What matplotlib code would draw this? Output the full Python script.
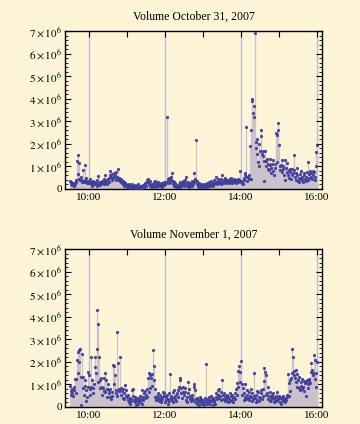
import numpy as np
import matplotlib
matplotlib.use("Agg")
import matplotlib.pyplot as plt
from matplotlib.ticker import FixedLocator, MultipleLocator

# one value per minute, 9:30 .. 16:00, in millions of shares
vol_oct31 = [
    0.35, 0.30, 0.22, 0.18, 0.25, 0.20, 0.15, 0.28, 0.22, 0.30,  # 9:30
    0.40, 1.22, 1.52, 0.65, 0.45, 1.15, 0.42, 0.38, 0.55, 0.30,  # 9:40
    0.84, 0.35, 0.30, 1.05, 0.42, 0.48, 0.30, 0.25, 0.35, 0.28,  # 9:50
    0.30, 0.25, 0.45, 0.20, 0.30, 0.15, 0.25, 0.35, 0.20, 0.28,  # 10:00
    0.30, 0.22, 0.15, 0.40, 0.57, 0.25, 0.20, 0.30, 0.18, 0.25,  # 10:10
    0.35, 0.25, 0.30, 0.20, 0.45, 0.60, 0.35, 0.28, 0.40, 0.22,  # 10:20
    0.45, 0.30, 0.50, 0.62, 0.80, 0.55, 0.40, 0.65, 0.48, 0.70,  # 10:30
    0.52, 0.60, 0.38, 0.75, 0.45, 0.55, 0.88, 0.40, 0.50, 0.35,  # 10:40
    0.30, 0.45, 0.25, 0.35, 0.20, 0.30, 0.15, 0.25, 0.18, 0.12,  # 10:50
    0.10, 0.15, 0.08, 0.20, 0.12, 0.05, 0.15, 0.10, 0.22, 0.08,  # 11:00
    0.12, 0.05, 0.18, 0.10, 0.06, 0.15, 0.08, 0.20, 0.10, 0.05,  # 11:10
    0.12, 0.08, 0.15, 0.10, 0.05, 0.18, 0.12, 0.08, 0.20, 0.25,  # 11:20
    0.15, 0.30, 0.40, 0.45, 0.25, 0.20, 0.12, 0.35, 0.18, 0.10,  # 11:30
    0.22, 0.15, 0.30, 0.12, 0.35, 0.20, 0.10, 0.25, 0.18, 0.30,  # 11:40
    0.15, 0.22, 0.12, 0.28, 0.18, 0.20, 0.10, 0.25, 0.30, 0.18,  # 11:50
    0.20, 0.30, 0.25, 3.17, 0.45, 0.38, 0.25, 0.50, 0.30, 0.40,  # 12:00
    0.55, 0.70, 0.35, 0.20, 0.30, 0.15, 0.25, 0.10, 0.18, 0.12,  # 12:10
    0.08, 0.15, 0.22, 0.10, 0.30, 0.18, 0.12, 0.25, 0.35, 0.20,  # 12:20
    0.15, 0.40, 0.28, 0.55, 0.20, 0.12, 0.30, 0.18, 0.10, 0.25,  # 12:30
    0.15, 0.22, 0.35, 0.12, 0.20, 0.70, 0.30, 0.45, 0.40, 2.15,  # 12:40
    0.35, 0.20, 0.12, 0.25, 0.10, 0.18, 0.08, 0.15, 0.12, 0.20,  # 12:50
    0.10, 0.15, 0.08, 0.20, 0.12, 0.18, 0.25, 0.10, 0.15, 0.22,  # 13:00
    0.30, 0.12, 0.20, 0.35, 0.18, 0.25, 0.15, 0.40, 0.22, 0.28,  # 13:10
    0.55, 0.30, 0.20, 0.35, 0.45, 0.25, 0.38, 0.30, 0.20, 0.45,  # 13:20
    0.63, 0.35, 0.28, 0.40, 0.30, 0.48, 0.25, 0.35, 0.42, 0.30,  # 13:30
    0.38, 0.25, 0.45, 0.30, 0.50, 0.35, 0.28, 0.40, 0.32, 0.45,  # 13:40
    0.30, 0.38, 0.25, 0.42, 0.35, 0.30, 0.45, 0.40, 0.78, 0.35,  # 13:50
    0.30, 0.25, 0.35, 0.20, 0.40, 0.48, 0.60, 0.70, 2.74, 0.55,  # 14:00
    0.35, 0.55, 0.45, 0.60, 1.89, 0.45, 2.62, 3.92, 4.00, 3.36,  # 14:10
    3.18, 3.66, 6.93, 2.10, 1.80, 2.20, 1.55, 1.20, 2.00, 1.00,  # 14:20
    1.70, 2.35, 2.62, 1.55, 1.70, 1.45, 1.25, 0.35, 1.70, 1.25,  # 14:30
    1.00, 1.35, 0.90, 1.10, 0.85, 1.05, 1.35, 0.95, 0.70, 1.10,  # 14:40
    0.80, 1.30, 0.60, 0.95, 1.10, 2.48, 2.40, 1.20, 2.92, 2.62,  # 14:50
    1.95, 1.00, 0.85, 1.05, 0.75, 1.30, 0.90, 1.00, 0.60, 1.30,  # 15:00
    0.40, 0.95, 0.75, 1.15, 0.60, 0.85, 0.50, 0.75, 0.90, 0.45,  # 15:10
    0.60, 0.90, 0.70, 1.50, 0.85, 0.55, 0.70, 0.40, 0.95, 0.60,  # 15:20
    0.35, 0.50, 0.30, 0.65, 0.45, 0.80, 0.40, 0.55, 0.30, 0.60,  # 15:30
    0.70, 0.45, 0.35, 0.55, 0.75, 0.40, 1.20, 0.65, 0.50, 0.80,  # 15:40
    0.55, 0.70, 0.45, 0.80, 0.60, 0.75, 0.40, 0.55, 1.00, 1.65,  # 15:50
    1.96,                                                        # 16:00
]

vol_nov1 = [
    0.95, 0.70, 0.55, 0.80, 0.62, 0.47, 0.90, 0.75, 1.22, 0.60,  # 9:30
    1.22, 2.10, 1.50, 2.45, 2.53, 2.00, 2.55, 0.08, 1.35, 2.35,  # 9:40
    1.35, 0.85, 0.55, 0.92, 1.20, 0.25, 0.75, 0.45, 0.90, 1.57,  # 9:50
    1.40, 0.80, 0.55, 2.23, 0.90, 1.20, 0.85, 0.60, 1.00, 1.78,  # 10:00
    2.20, 1.50, 2.57, 4.30, 1.10, 3.66, 2.23, 0.85, 1.20, 1.30,  # 10:10
    0.90, 0.55, 0.85, 0.70, 1.30, 1.50, 0.65, 1.20, 0.45, 0.80,  # 10:20
    1.00, 0.60, 0.75, 0.45, 0.80, 0.35, 0.65, 0.50, 1.86, 1.00,  # 10:30
    1.80, 1.40, 0.60, 0.75, 3.34, 0.50, 1.93, 0.80, 0.70, 2.23,  # 10:40
    0.85, 0.55, 0.70, 0.40, 0.80, 0.60, 0.35, 0.97, 0.75, 0.50,  # 10:50
    0.45, 0.30, 0.55, 0.20, 0.40, 0.15, 0.35, 0.25, 0.75, 0.50,  # 11:00
    0.78, 0.30, 0.20, 0.45, 0.10, 0.35, 0.25, 0.15, 0.40, 0.30,  # 11:10
    0.20, 0.50, 0.35, 0.15, 0.75, 0.30, 0.45, 0.60, 0.40, 0.70,  # 11:20
    0.55, 0.80, 0.45, 1.28, 0.65, 1.50, 0.85, 1.40, 1.30, 0.95,  # 11:30
    1.45, 2.52, 1.80, 1.20, 0.80, 0.45, 0.30, 0.50, 0.35, 0.60,  # 11:40
    0.40, 0.25, 0.55, 0.30, 0.20, 0.45, 0.35, 0.65, 0.50, 0.62,  # 11:50
    0.20, 0.45, 0.30, 0.55, 0.15, 0.35, 0.60, 0.25, 1.45, 0.40,  # 12:00
    0.50, 0.30, 0.65, 0.20, 0.45, 0.75, 0.35, 0.55, 0.25, 0.60,  # 12:10
    0.75, 0.45, 0.90, 1.30, 1.20, 0.60, 0.85, 0.40, 0.65, 0.90,  # 12:20
    0.55, 0.85, 0.65, 0.30, 0.45, 0.20, 0.60, 1.10, 0.80, 0.35,  # 12:30
    0.50, 0.25, 0.40, 0.55, 0.30, 1.00, 0.90, 0.75, 0.20, 0.35,  # 12:40
    0.15, 0.40, 0.25, 0.10, 0.30, 0.45, 0.20, 0.35, 0.15, 0.25,  # 12:50
    0.30, 0.10, 0.20, 0.40, 1.90, 0.25, 0.15, 0.35, 0.20, 0.45,  # 13:00
    0.30, 0.15, 0.50, 0.25, 0.35, 0.10, 0.40, 0.20, 0.30, 0.15,  # 13:10
    0.45, 0.60, 0.35, 0.55, 0.75, 0.40, 0.78, 0.50, 0.65, 0.30,  # 13:20
    1.20, 0.55, 0.35, 0.60, 0.25, 0.50, 0.40, 0.30, 0.55, 0.20,  # 13:30
    0.45, 0.35, 0.60, 0.25, 0.50, 0.30, 0.55, 0.40, 0.20, 0.45,  # 13:40
    0.60, 0.35, 0.80, 1.05, 0.55, 0.90, 1.60, 1.83, 1.55, 1.10,  # 13:50
    2.05, 1.00, 0.55, 0.85, 0.30, 0.60, 0.45, 1.00, 0.35, 0.55,  # 14:00
    0.75, 0.40, 0.30, 0.65, 0.50, 0.80, 0.45, 0.25, 0.60, 0.35,  # 14:10
    0.50, 1.50, 0.40, 0.20, 0.55, 0.70, 0.30, 0.65, 0.45, 0.25,  # 14:20
    0.40, 0.60, 0.75, 0.35, 0.50, 0.80, 1.15, 1.75, 1.55, 0.55,  # 14:30
    1.40, 0.60, 0.90, 0.35, 0.50, 0.25, 0.65, 0.45, 0.30, 0.55,  # 14:40
    0.40, 0.60, 0.20, 0.45, 0.30, 0.50, 0.65, 0.25, 0.40, 0.35,  # 14:50
    0.50, 0.20, 0.40, 0.15, 0.35, 0.45, 0.25, 0.50, 0.30, 0.20,  # 15:00
    0.40, 0.30, 0.55, 0.45, 1.45, 1.05, 0.50, 0.70, 1.20, 1.30,  # 15:10
    1.50, 2.55, 2.23, 1.60, 1.40, 1.30, 1.65, 1.10, 0.90, 1.45,  # 15:20
    1.20, 0.85, 1.35, 0.75, 1.10, 0.95, 1.25, 0.80, 0.90, 1.15,  # 15:30
    0.70, 1.05, 0.50, 1.10, 1.20, 0.85, 1.00, 1.15, 1.25, 1.05,  # 15:40
    1.95, 1.55, 1.65, 1.40, 1.50, 2.30, 2.10, 1.25, 1.50, 0.87,  # 15:50
    2.00,                                                        # 16:00
]

titles = ["Volume October 31, 2007", "Volume November 1, 2007"]
hour_ticks = [10, 11, 12, 13, 14, 15, 16]
hour_labels = ["10:00", "", "12:00", "", "14:00", "", "16:00"]
grid_hours = [10, 12, 14, 16]

bg = "#fef5d8"
stem_col = "#cbc2cb"
dot_col = "#3f3f9c"
grid_col = "#b9bfd6"

plt.rcParams["font.family"] = ["Liberation Serif", "DejaVu Serif"]
plt.rcParams["mathtext.fontset"] = "stix"

fig = plt.figure(figsize=(3.6, 4.24), dpi=100, facecolor=bg)

# axes boxes in pixels: left, right, top, bottom
boxes = [(65, 322, 31, 189), (65, 322, 249, 407)]

for vals, title, (l, r, t, b) in zip([vol_oct31, vol_nov1], titles, boxes):
    ax = fig.add_axes([l / 360, 1 - b / 424, (r - l) / 360, (b - t) / 424])
    ax.set_facecolor(bg)
    v = np.array(vals) * 1e6
    x = 9.5 + np.arange(len(v)) / 60.0

    for g in grid_hours:
        ax.axvline(g, color=grid_col, lw=1.0, zorder=1)
    ax.vlines(x, 0, v, color=stem_col, lw=0.9, zorder=2)
    ax.plot(x, v, "o", ms=2.0, color=dot_col, mec=dot_col, mew=0.3,
            zorder=3, clip_on=False)

    ax.set_xlim(9.5 - 0.13, 16 + 0.13)
    ax.set_ylim(0, 7e6)

    ax.xaxis.set_major_locator(FixedLocator(hour_ticks))
    ax.set_xticklabels(hour_labels)
    ax.yaxis.set_minor_locator(MultipleLocator(2e5))
    ylabels = ["0"] + [r"$%d\times10^{6}$" % k for k in range(1, 8)]
    ax.set_yticks(np.arange(0, 8) * 1e6)
    ax.set_yticklabels(ylabels)

    ax.tick_params(which="both", direction="in", top=True, right=True,
                   labelsize=8, colors="black")
    ax.tick_params(which="major", length=4, width=0.8)
    ax.tick_params(which="minor", length=2, width=0.6)
    ax.tick_params(axis="x", which="minor", length=0)
    ax.tick_params(axis="y", pad=2)
    ax.tick_params(axis="x", pad=3)
    for s in ax.spines.values():
        s.set_linewidth(1.0)
        s.set_color("black")

    ax.set_title(title, fontsize=8.5, pad=8)

fig.savefig("out.png", dpi=100, facecolor=bg)
